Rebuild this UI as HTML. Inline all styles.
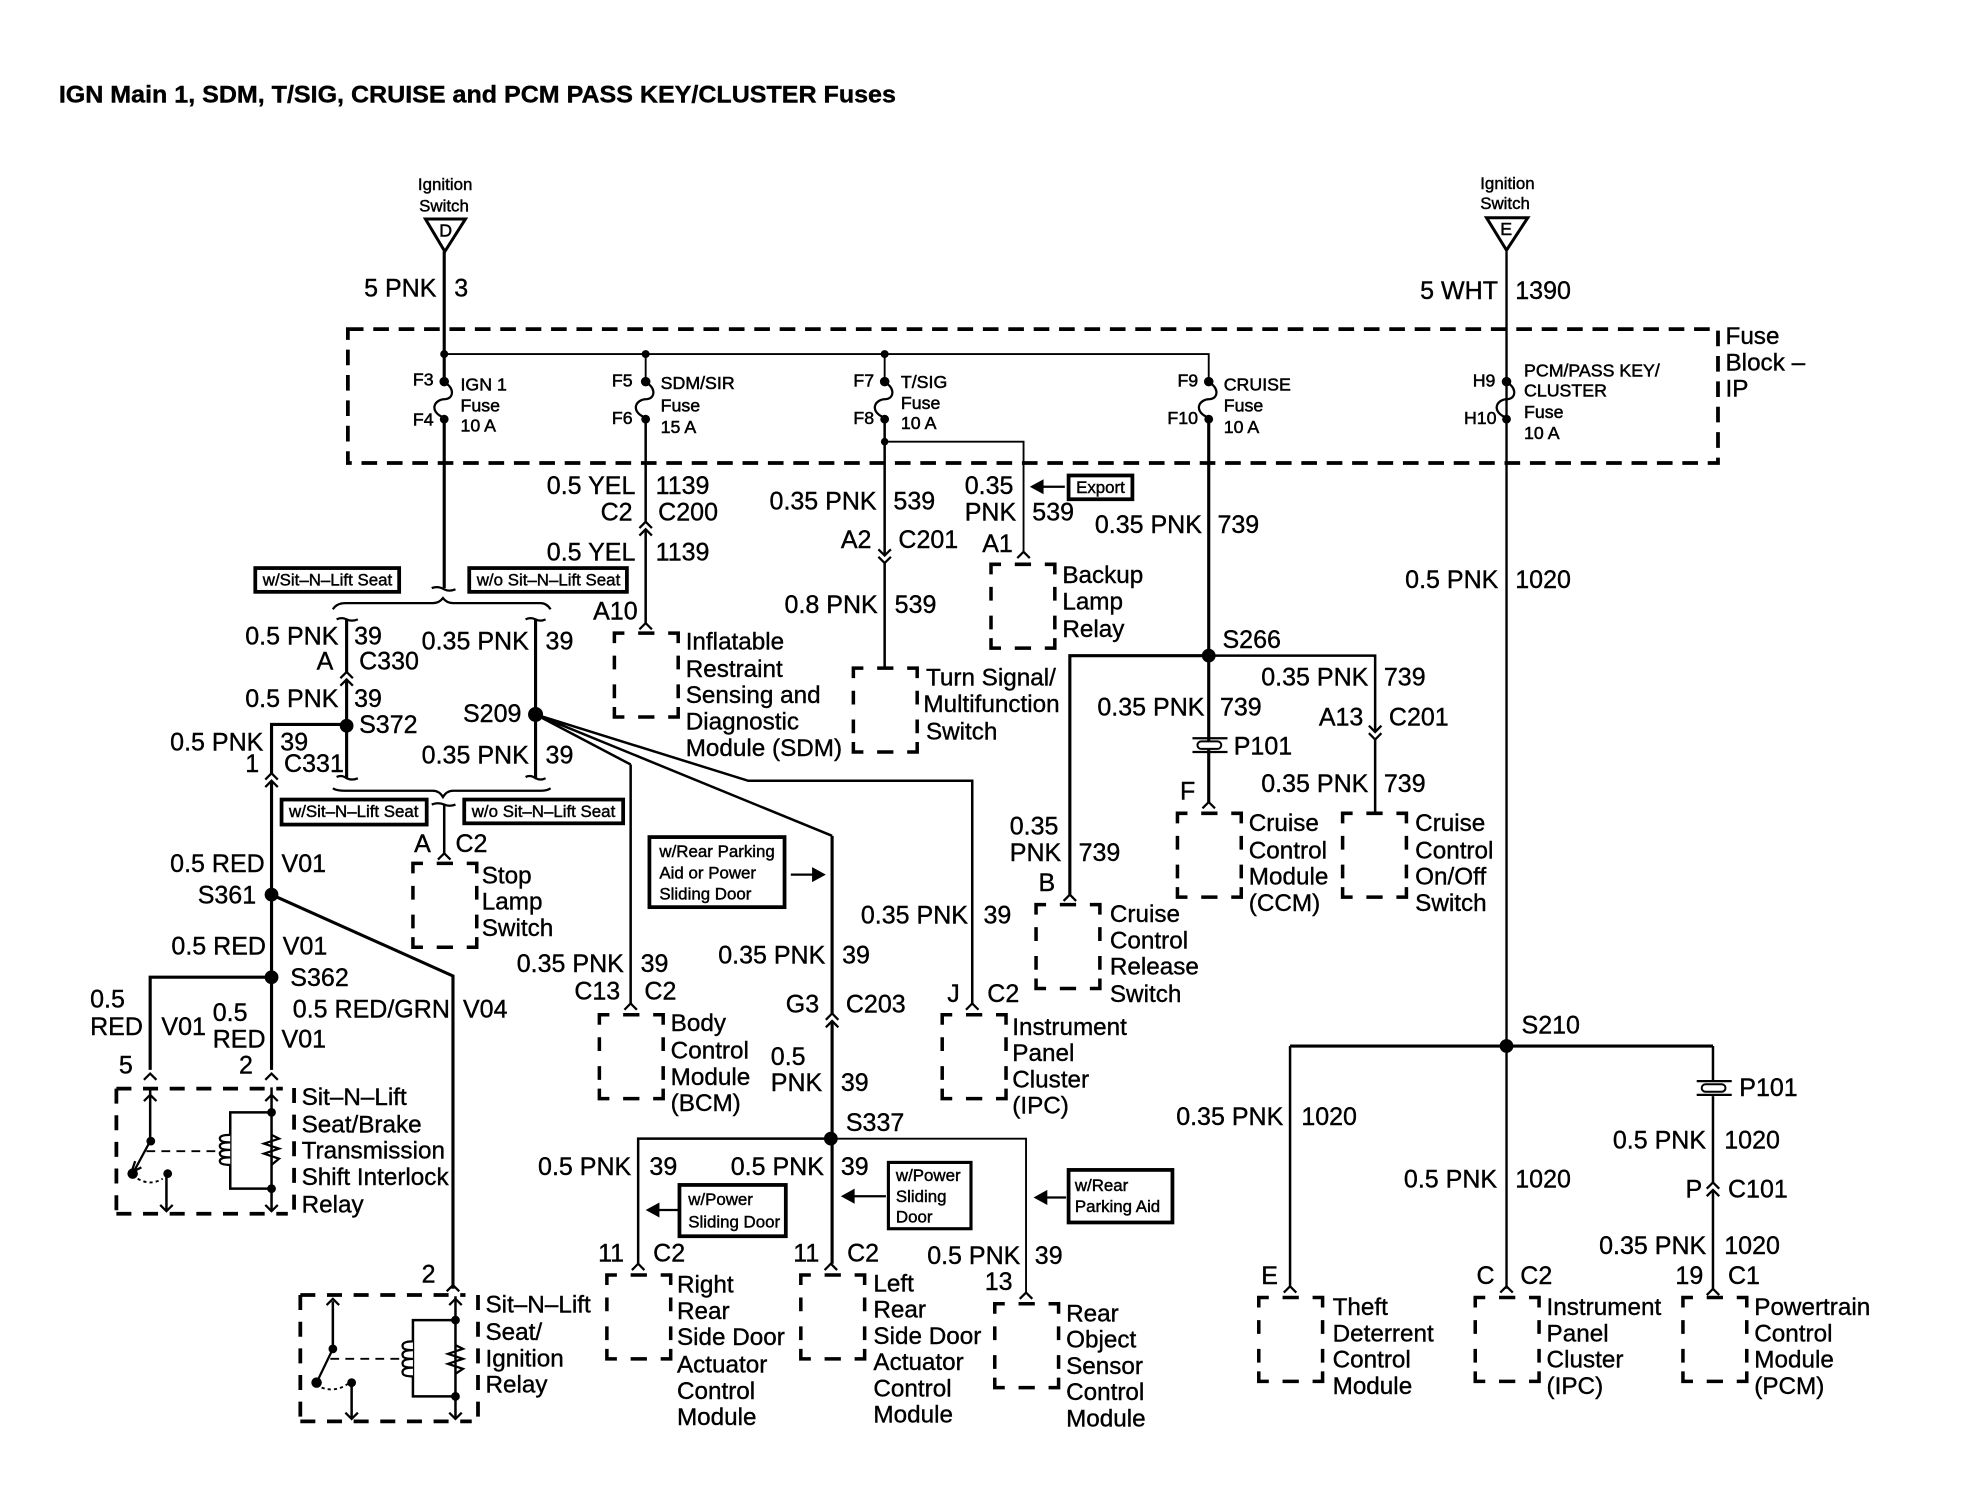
<!DOCTYPE html>
<html><head><meta charset="utf-8"><style>
html,body{margin:0;padding:0;background:#fff}
svg{display:block}
text{font-family:"Liberation Sans",sans-serif;font-size:20px;fill:#000;stroke:#000;stroke-width:.3;white-space:pre}
.n text{font-size:19.4px}
.s text{font-size:14.2px;stroke-width:.4}
.b text{font-size:13.5px;stroke-width:.35}
.w,.m,.t,.d,.c,.bx{fill:none;stroke:#000}
.w{stroke-width:2.5}
.m{stroke-width:2}
.t{stroke-width:1.5}
.c{stroke-width:1.8}
.d{stroke-width:3;stroke-dasharray:12.5 7.8}
.r{fill:none;stroke:#000;stroke-width:3;stroke-dasharray:12 9.3}
.bx{stroke-width:2.8}
.x{fill:#fff;stroke:#000;stroke-width:3}
</style></head><body>
<svg xmlns="http://www.w3.org/2000/svg" width="1962" height="1504" viewBox="0 0 1568 1202">
<defs>
<path id="bx" class="bx" d="M0 8V0H8M43 0H51V8M0 59V67H8M43 67H51V59M19 0H32M19 67H32M0 18V29M0 41V52M51 18V29M51 41V52"/>
</defs>
<rect x="0" y="0" width="1568" height="1202" fill="#fff"/>
<text x="47" y="82" style="font-size:19px;font-weight:bold" textLength="669" lengthAdjust="spacingAndGlyphs">IGN Main 1, SDM, T/SIG, CRUISE and PCM PASS KEY/CLUSTER Fuses</text>

<!-- dashed boxes -->
<rect class="d" x="278" y="263" width="1095" height="107"/>
<use href="#bx" x="491" y="506"/>
<use href="#bx" x="682" y="534"/>
<use href="#bx" x="792" y="451"/>
<use href="#bx" x="941" y="650"/>
<use href="#bx" x="1073" y="650"/>
<use href="#bx" x="828" y="723"/>
<use href="#bx" x="330" y="690"/>
<use href="#bx" x="479" y="811"/>
<use href="#bx" x="753" y="811"/>
<use href="#bx" x="485" y="1019"/>
<use href="#bx" x="640" y="1019"/>
<use href="#bx" x="795" y="1042"/>
<use href="#bx" x="1006" y="1037"/>
<use href="#bx" x="1179" y="1037"/>
<use href="#bx" x="1345" y="1037"/>
<path class="r" d="M93 870V970M93 870H226M93 970H230M235 869.5V968"/>
<path class="r" d="M240 1035V1136M240 1035H372M240 1136H377M382 1035V1133"/>

<!-- wires -->
<path class="w" d="M355 201V305M355 334V470
M966 334V641
M855 715V524H966
M277 495V537M277 543V622M277 579H217V618M217 624V855
M217 781H120V855
M217 715L362 780V1030
M428 495V622
M665 668V810M665 816V1010
M1031 836H1369"/>
<path class="m" d="M516 334V417M516 423V498
M707 334V444M707 450V534
M966 524H1099V585M1099 591V650
M355 643V682
M504 802V611M428 571L504 611
M428 571L598 624H777V802M428 571L665 668
M510 1010V910H664M510 1010
M1031 1028V836M1369 836V864M1369 876V945M1369 951V1030
M120 869V912M133 938V968
M217 869V968M217 889H184V950H217
M266 1040V1078M281 1105V1134
M364 1036V1134M364 1055H330V1116H364"/>
<path class="t" d="M355 283H966V304M516 283V304M707 283V304M707 353H818V441M664 910H820V1033"/>
<path d="M1204 201V1030" fill="none" stroke="#000" stroke-width="1.9"/>
<path class="c" d="M120 912L106 938M266 1078L253 1105"/>

<!-- braces and caps -->
<path class="c" d="M266 487Q269 482 276 482H346Q351 482 354 478Q357 482 362 482H432Q437 482 440 487
M266 630Q269 632 276 632H346Q351 632 354 637Q357 632 362 632H432Q437 632 440 630
M269 495Q273 493 277 495Q281 497 286 495M420 495Q424 493 428 495Q432 497 436 495
M269 621Q273 619 277 622Q281 624 286 622M420 621Q424 619 428 622Q432 624 436 622
M345 470Q350 468 355 471Q359 473 364 471M345 643Q350 641 355 643Q359 645 364 643"/>

<!-- chevrons -->
<path class="c" d="M511 422l5-5 5 5M511 428l5-5 5 5
M702 445l5 5 5-5M702 439l5 5 5-5
M813 446l5-5 5 5
M272 542l5-5 5 5M272 548l5-5 5 5
M212 623l5-5 5 5M212 629l5-5 5 5
M660 815l5-5 5 5M660 821l5-5 5 5
M1094 586l5 5 5-5M1094 580l5 5 5-5
M1364 950l5-5 5 5M1364 956l5-5 5 5
M961 646l5-5 5 5M850 720l5-5 5 5
M511 503l5-5 5 5M350 687l5-5 5 5
M499 807l5-5 5 5M772 807l5-5 5 5
M505 1015l5-5 5 5M659 1015l5-5 5 5M815 1038l5-5 5 5
M1026 1033l5-5 5 5M1199 1033l5-5 5 5M1364 1035l5-5 5 5
M115 863l5-5 5 5M212 863l5-5 5 5M357 1032l5-5 5 5
M115 880l5-5 5 5M212 880l5-5 5 5M128 963l5 5 5-5M212 963l5 5 5-5
M261 1043l5-5 5 5M359 1043l5-5 5 5M276 1129l5 5 5-5M359 1129l5 5 5-5
M108 928l-3 9 8-4"/>

<!-- fuses -->
<path class="c" d="M355 306C362 308 364 318 356 319C347 319 343 328 353 333
M516 306C523 308 525 318 517 319C508 319 504 328 514 333
M707 306C714 308 716 318 708 319C699 319 695 328 705 333
M966 306C973 308 975 318 967 319C958 319 954 328 964 333
M1204 306C1211 308 1213 318 1205 319C1196 319 1192 328 1202 333"/>

<!-- dots -->
<g>
<circle cx="355" cy="283" r="3.2"/><circle cx="516" cy="283" r="3.2"/><circle cx="707" cy="283" r="3.2"/>
<circle cx="355" cy="305" r="3.8"/><circle cx="355" cy="335" r="3.5"/>
<circle cx="516" cy="305" r="3.8"/><circle cx="516" cy="335" r="3.5"/>
<circle cx="707" cy="305" r="3.8"/><circle cx="707" cy="335" r="3.5"/>
<circle cx="966" cy="305" r="3.8"/><circle cx="966" cy="335" r="3.5"/>
<circle cx="1204" cy="305" r="3.8"/><circle cx="1204" cy="335" r="3.5"/>
<circle cx="707" cy="353" r="3"/>
<circle cx="966" cy="524" r="5.5"/><circle cx="1204" cy="836" r="5.5"/>
<circle cx="277" cy="580" r="5.5"/><circle cx="428" cy="571" r="6"/>
<circle cx="217" cy="715" r="5.5"/><circle cx="217" cy="781" r="5.5"/>
<circle cx="664" cy="910" r="5.5"/>
<circle cx="120.5" cy="912" r="3.5"/><circle cx="106" cy="938" r="4.2"/><circle cx="134" cy="938" r="3.5"/>
<circle cx="217" cy="889" r="3.5"/><circle cx="217" cy="950" r="3.5"/>
<circle cx="266" cy="1078" r="3.5"/><circle cx="253" cy="1105" r="4.2"/><circle cx="281" cy="1105" r="3.5"/>
<circle cx="364" cy="1055" r="3.5"/><circle cx="364" cy="1116" r="3.5"/>
</g>

<!-- triangles -->
<path fill="#fff" stroke="#000" stroke-width="2.4" d="M340 175H372L355.5 201ZM1188 174H1221L1204 200Z"/>

<!-- relay internals -->
<path class="t" stroke-dasharray="7 5" d="M117 920H173M264 1086H321"/>
<path class="t" stroke-dasharray="2.5 2.5" d="M110 942Q120 948 130 942M257 1109Q268 1113 278 1106"/>
<path fill="#fff" stroke="#000" stroke-width="1.8" d="M184 907q-10 0-8 4 1 2 8 2-10 0-8 4 1 2 8 2-10 0-8 4 1 2 8 2-10 0-8 4 1 2 8 2"/>
<path fill="none" stroke="#000" stroke-width="1.8" d="M217 907l6 3-12 4 12 4-12 4 12 4-6 5"/>
<path fill="#fff" stroke="#000" stroke-width="1.8" d="M330 1072q-10 0-8 5 1 2 8 2-10 0-8 5 1 2 8 2-10 0-8 5 1 2 8 2-10 0-8 5 1 2 8 2"/>
<path fill="none" stroke="#000" stroke-width="1.8" d="M364 1075l6 3-12 4 12 4-12 4 12 4-6 4"/>

<!-- splices P101 -->
<path class="c" d="M953 590H981M953 601H981M1356 864H1384M1356 875H1384"/>
<rect x="957" y="592.5" width="19" height="6" rx="3" fill="#fff" stroke="#000" stroke-width="1.6"/>
<rect x="1360" y="866.5" width="19" height="6" rx="3" fill="#fff" stroke="#000" stroke-width="1.6"/>

<!-- option boxes -->
<rect class="x" x="204" y="454" width="115" height="19"/>
<rect class="x" x="375" y="454" width="126" height="19"/>
<rect class="x" x="225" y="639" width="116" height="20"/>
<rect class="x" x="371" y="639" width="127" height="19"/>
<rect class="x" x="519" y="669" width="108" height="56"/>
<rect class="x" x="854" y="380" width="51" height="19"/>
<rect class="x" x="543" y="947" width="85" height="41"/>
<rect class="x" x="710" y="929" width="66" height="53" style="stroke-width:2.5"/>
<rect class="x" x="854" y="935" width="83" height="42"/>
<!-- arrows -->
<path class="c" d="M851 389H825M632 699H652M542 967H524M708 956H680M852 957H836"/>
<path d="M823 389l11-6v12ZM660 699l-11-6v12ZM516 967l11-6v12ZM672 956l11-6v12ZM826 957l11-6v12Z"/>

<g class="b">
<text x="334" y="152">Ignition</text><text x="335" y="169">Switch</text>
<text x="1183" y="151">Ignition</text><text x="1183" y="167">Switch</text>
<text x="210" y="468">w/Sit–N–Lift Seat</text><text x="381" y="468">w/o Sit–N–Lift Seat</text>
<text x="231" y="653">w/Sit–N–Lift Seat</text><text x="377" y="653">w/o Sit–N–Lift Seat</text>
<text x="527" y="685">w/Rear Parking</text><text x="527" y="702">Aid or Power</text><text x="527" y="719">Sliding Door</text>
<text x="860" y="394">Export</text>
<text x="550" y="963">w/Power</text><text x="550" y="981">Sliding Door</text>
<text x="716" y="944">w/Power</text><text x="716" y="960.5">Sliding</text><text x="716" y="977">Door</text>
<text x="859" y="952">w/Rear</text><text x="859" y="968.5">Parking Aid</text>
</g>

<g class="s">
<text x="351" y="189">D</text><text x="1199" y="188">E</text>
<text x="330" y="308">F3</text><text x="330" y="340">F4</text>
<text x="368" y="312">IGN 1</text><text x="368" y="329">Fuse</text><text x="368" y="345">10 A</text>
<text x="489" y="309">F5</text><text x="489" y="339">F6</text>
<text x="528" y="311">SDM/SIR</text><text x="528" y="329">Fuse</text><text x="528" y="346">15 A</text>
<text x="682" y="309">F7</text><text x="682" y="339">F8</text>
<text x="720" y="310">T/SIG</text><text x="720" y="327">Fuse</text><text x="720" y="343">10 A</text>
<text x="941" y="309">F9</text><text x="933" y="339">F10</text>
<text x="978" y="312">CRUISE</text><text x="978" y="329">Fuse</text><text x="978" y="346">10 A</text>
<text x="1177" y="309">H9</text><text x="1170" y="339">H10</text>
<text x="1218" y="301">PCM/PASS KEY/</text><text x="1218" y="317">CLUSTER</text><text x="1218" y="334">Fuse</text><text x="1218" y="351">10 A</text>
</g>

<g class="n">
<text x="1379" y="275">Fuse</text><text x="1379" y="296">Block –</text><text x="1379" y="317">IP</text>
<text x="548" y="519">Inflatable</text><text x="548" y="541">Restraint</text><text x="548" y="562">Sensing and</text><text x="548" y="583">Diagnostic</text><text x="548" y="604">Module (SDM)</text>
<text x="740" y="548">Turn Signal/</text><text x="738" y="569">Multifunction</text><text x="740" y="591">Switch</text>
<text x="849" y="466">Backup</text><text x="849" y="487">Lamp</text><text x="849" y="509">Relay</text>
<text x="998" y="664">Cruise</text><text x="998" y="686">Control</text><text x="998" y="707">Module</text><text x="998" y="728">(CCM)</text>
<text x="1131" y="664">Cruise</text><text x="1131" y="686">Control</text><text x="1131" y="707">On/Off</text><text x="1131" y="728">Switch</text>
<text x="887" y="737">Cruise</text><text x="887" y="758">Control</text><text x="887" y="779">Release</text><text x="887" y="801">Switch</text>
<text x="1065" y="1051">Theft</text><text x="1065" y="1072">Deterrent</text><text x="1065" y="1093">Control</text><text x="1065" y="1114">Module</text>
<text x="1236" y="1051">Instrument</text><text x="1236" y="1072">Panel</text><text x="1236" y="1093">Cluster</text><text x="1236" y="1114">(IPC)</text>
<text x="1402" y="1051">Powertrain</text><text x="1402" y="1072">Control</text><text x="1402" y="1093">Module</text><text x="1402" y="1114">(PCM)</text>
<text x="385" y="706">Stop</text><text x="385" y="727">Lamp</text><text x="385" y="748">Switch</text>
<text x="241" y="883">Sit–N–Lift</text><text x="241" y="905">Seat/Brake</text><text x="241" y="926">Transmission</text><text x="241" y="947">Shift Interlock</text><text x="241" y="969">Relay</text>
<text x="388" y="1049">Sit–N–Lift</text><text x="388" y="1071">Seat/</text><text x="388" y="1092">Ignition</text><text x="388" y="1113">Relay</text>
<text x="536" y="824">Body</text><text x="536" y="846">Control</text><text x="536" y="867">Module</text><text x="536" y="888">(BCM)</text>
<text x="809" y="827">Instrument</text><text x="809" y="848">Panel</text><text x="809" y="869">Cluster</text><text x="809" y="890">(IPC)</text>
<text x="541" y="1033">Right</text><text x="541" y="1054">Rear</text><text x="541" y="1075">Side Door</text><text x="541" y="1097">Actuator</text><text x="541" y="1118">Control</text><text x="541" y="1139">Module</text>
<text x="698" y="1032">Left</text><text x="698" y="1053">Rear</text><text x="698" y="1074">Side Door</text><text x="698" y="1095">Actuator</text><text x="698" y="1116">Control</text><text x="698" y="1137">Module</text>
<text x="852" y="1056">Rear</text><text x="852" y="1077">Object</text><text x="852" y="1098">Sensor</text><text x="852" y="1119">Control</text><text x="852" y="1140">Module</text>
</g>

<text x="291" y="237">5 PNK</text><text x="363" y="237">3</text>
<text x="1135" y="239">5 WHT</text><text x="1211" y="239">1390</text>
<text x="437" y="395">0.5 YEL</text><text x="524" y="395">1139</text>
<text x="480" y="416">C2</text><text x="526" y="416">C200</text>
<text x="437" y="448">0.5 YEL</text><text x="524" y="448">1139</text>
<text x="474" y="495">A10</text>
<text x="615" y="407">0.35 PNK</text><text x="714" y="407">539</text>
<text x="672" y="438">A2</text><text x="718" y="438">C201</text>
<text x="627" y="490">0.8 PNK</text><text x="715" y="490">539</text>
<text x="771" y="395">0.35</text><text x="771" y="416">PNK</text><text x="825" y="416">539</text>
<text x="785" y="441">A1</text>
<text x="875" y="426">0.35 PNK</text><text x="973" y="426">739</text>
<text x="977" y="518">S266</text>
<text x="1008" y="548">0.35 PNK</text><text x="1106" y="548">739</text>
<text x="877" y="572">0.35 PNK</text><text x="975" y="572">739</text>
<text x="1054" y="580">A13</text><text x="1110" y="580">C201</text>
<text x="986" y="603">P101</text>
<text x="1008" y="633">0.35 PNK</text><text x="1106" y="633">739</text>
<text x="943" y="639">F</text>
<text x="807" y="667">0.35</text><text x="807" y="688">PNK</text><text x="862" y="688">739</text>
<text x="830" y="712">B</text>
<text x="1123" y="470">0.5 PNK</text><text x="1211" y="470">1020</text>
<text x="1216" y="826">S210</text>
<text x="940" y="899">0.35 PNK</text><text x="1040" y="899">1020</text>
<text x="1122" y="949">0.5 PNK</text><text x="1211" y="949">1020</text>
<text x="1390" y="876">P101</text>
<text x="1289" y="918">0.5 PNK</text><text x="1378" y="918">1020</text>
<text x="1347" y="957">P</text><text x="1381" y="957">C101</text>
<text x="1278" y="1002">0.35 PNK</text><text x="1378" y="1002">1020</text>
<text x="1008" y="1026">E</text><text x="1180" y="1026">C</text><text x="1215" y="1026">C2</text><text x="1339" y="1026">19</text><text x="1381" y="1026">C1</text>

<text x="196" y="515">0.5 PNK</text><text x="283" y="515">39</text>
<text x="253" y="535">A</text><text x="287" y="535">C330</text>
<text x="196" y="565">0.5 PNK</text><text x="283" y="565">39</text>
<text x="287" y="586">S372</text>
<text x="337" y="519">0.35 PNK</text><text x="436" y="519">39</text>
<text x="370" y="577">S209</text>
<text x="337" y="610">0.35 PNK</text><text x="436" y="610">39</text>
<text x="136" y="600">0.5 PNK</text><text x="224" y="600">39</text>
<text x="196" y="617">1</text><text x="227" y="617">C331</text>
<text x="331" y="681">A</text><text x="364" y="681">C2</text>
<text x="136" y="697">0.5 RED</text><text x="225" y="697">V01</text>
<text x="158" y="722">S361</text>
<text x="137" y="763">0.5 RED</text><text x="226" y="763">V01</text>
<text x="232" y="788">S362</text>
<text x="72" y="805">0.5</text><text x="72" y="827">RED</text><text x="129" y="827">V01</text>
<text x="170" y="816">0.5</text><text x="170" y="837">RED</text><text x="225" y="837">V01</text>
<text x="234" y="813">0.5 RED/GRN</text><text x="370" y="813">V04</text>
<text x="95" y="858">5</text><text x="191" y="858">2</text>
<text x="337" y="1025">2</text>
<text x="413" y="777">0.35 PNK</text><text x="512" y="777">39</text>
<text x="459" y="799">C13</text><text x="515" y="799">C2</text>
<text x="574" y="770">0.35 PNK</text><text x="673" y="770">39</text>
<text x="628" y="809">G3</text><text x="676" y="809">C203</text>
<text x="616" y="851">0.5</text><text x="616" y="872">PNK</text><text x="672" y="872">39</text>
<text x="676" y="904">S337</text>
<text x="688" y="738">0.35 PNK</text><text x="786" y="738">39</text>
<text x="757" y="801">J</text><text x="789" y="801">C2</text>
<text x="430" y="939">0.5 PNK</text><text x="519" y="939">39</text>
<text x="584" y="939">0.5 PNK</text><text x="672" y="939">39</text>
<text x="741" y="1010">0.5 PNK</text><text x="827" y="1010">39</text>
<text x="478" y="1008">11</text><text x="522" y="1008">C2</text><text x="634" y="1008">11</text><text x="677" y="1008">C2</text><text x="787" y="1031">13</text>
</svg>
</body></html>
